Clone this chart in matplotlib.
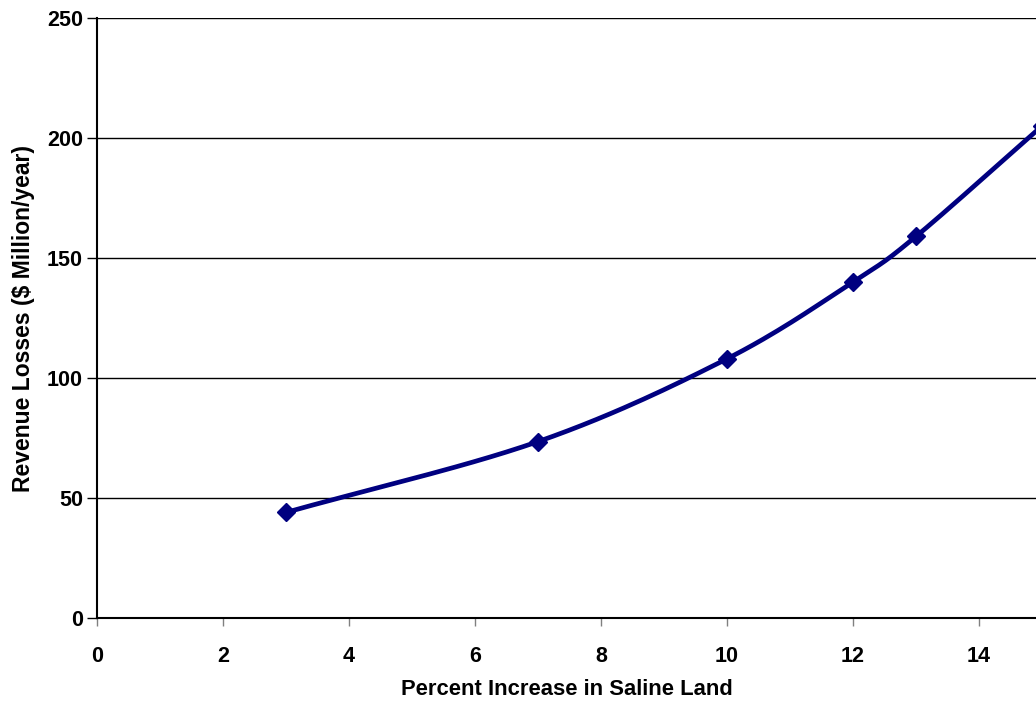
import numpy as np
import matplotlib.pyplot as plt

# Revenue losses vs. increase in saline land
pct_increase = [3, 7, 10, 12, 13, 15]
revenue_loss = [44, 73.5, 108, 140, 159, 205]

x_ticks = [0, 2, 4, 6, 8, 10, 12, 14]
y_ticks = [0, 50, 100, 150, 200, 250]


def smooth_curve(xs, ys, steps=30):
    # Catmull-Rom spline through the points, like Excel's smoothed line
    xs = np.asarray(xs, float)
    ys = np.asarray(ys, float)
    px = np.concatenate([[2 * xs[0] - xs[1]], xs, [2 * xs[-1] - xs[-2]]])
    py = np.concatenate([[2 * ys[0] - ys[1]], ys, [2 * ys[-1] - ys[-2]]])
    outx, outy = [], []
    t = np.linspace(0, 1, steps)
    for i in range(1, len(px) - 2):
        for p, out in ((px, outx), (py, outy)):
            p0, p1, p2, p3 = p[i - 1], p[i], p[i + 1], p[i + 2]
            seg = 0.5 * ((2 * p1) + (-p0 + p2) * t
                         + (2 * p0 - 5 * p1 + 4 * p2 - p3) * t ** 2
                         + (-p0 + 3 * p1 - 3 * p2 + p3) * t ** 3)
            out.extend(seg)
    return np.array(outx), np.array(outy)


plt.rcParams['font.family'] = ['Liberation Sans', 'DejaVu Sans']
plt.rcParams['font.weight'] = 'bold'

fig = plt.figure(figsize=(10.36, 7.02), dpi=100)
ax = fig.add_axes([97 / 1036, 1 - 618 / 702, 1 - 97 / 1036, (618 - 18) / 702])

sx, sy = smooth_curve(pct_increase, revenue_loss)
ax.plot(sx, sy, color='#000080', lw=3.4, solid_capstyle='round', zorder=3)
ax.plot(pct_increase, revenue_loss, 'D', color='#000080', ms=9.5, zorder=4)

ax.set_xlim(0, (1036 - 97) / 63)
ax.set_ylim(0, 250)
ax.set_xticks(x_ticks)
ax.set_yticks(y_ticks)
ax.yaxis.grid(True, color='black', lw=1)
ax.set_axisbelow(True)
for s in ('top', 'right'):
    ax.spines[s].set_visible(False)
ax.spines['left'].set_linewidth(1.5)
ax.spines['bottom'].set_linewidth(1.5)
ax.tick_params(axis='y', length=7, width=1, labelsize=15.5, pad=3)
ax.tick_params(axis='x', length=6, width=1, color='gray', labelsize=15.5, pad=14)
for lab in ax.get_xticklabels() + ax.get_yticklabels():
    lab.set_fontweight('bold')

ax.set_xlabel('Percent Increase in Saline Land', fontsize=15.8, fontweight='bold', labelpad=9)
ax.set_ylabel('Revenue Losses ($ Million/year)', fontsize=16.5, fontweight='bold', labelpad=9)

plt.savefig('out.png', dpi=100)
